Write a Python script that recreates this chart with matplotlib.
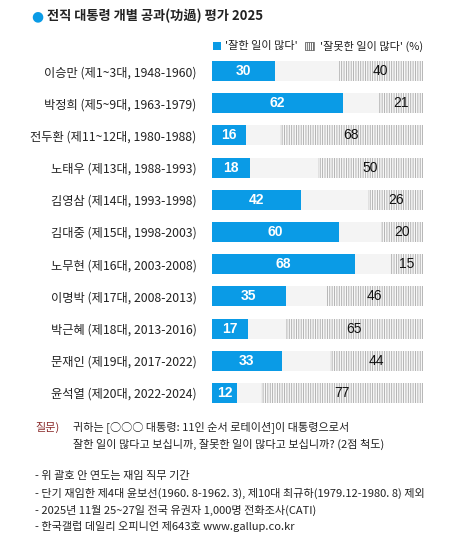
import matplotlib.pyplot as plt
from matplotlib import font_manager

# 데이터
presidents = ['이승만 (제1~3대, 1948-1960)', '박정희 (제5~9대, 1963-1979)', '전두환 (제11~12대, 1980-1988)',
              '노태우 (제13대, 1988-1993)', '김영삼 (제14대, 1993-1998)', '김대중 (제15대, 1998-2003)',
              '노무현 (제16대, 2003-2008)', '이명박 (제17대, 2008-2013)', '박근혜 (제18대, 2013-2016)',
              '문재인 (제19대, 2017-2022)', '윤석열 (제20대, 2022-2024)']
good = [30, 62, 16, 18, 42, 60, 68, 35, 17, 33, 12]
bad = [40, 21, 68, 50, 26, 20, 15, 46, 65, 44, 77]

title = '전직 대통령 개별 공과(功過) 평가 2025'
legend_good = "'잘한 일이 많다'"
legend_bad = "'잘못한 일이 많다' (%)"
question = ['귀하는 [○○○ 대통령: 11인 순서 로테이션]이 대통령으로서',
            '잘한 일이 많다고 보십니까, 잘못한 일이 많다고 보십니까? (2점 척도)']
notes = ['- 위 괄호 안 연도는 재임 직무 기간',
         '- 단기 재임한 제4대 윤보선(1960. 8-1962. 3), 제10대 최규하(1979.12-1980. 8) 제외',
         '- 2025년 11월 25~27일 전국 유권자 1,000명 전화조사(CATI)',
         '- 한국갤럽 데일리 오피니언 제643호 www.gallup.co.kr']

plt.rcParams['font.family'] = ['Noto Sans CJK KR', 'DejaVu Sans']
plt.rcParams['hatch.linewidth'] = 0.6

installed = {f.name for f in font_manager.fontManager.ttflist}
num_font = 'Liberation Sans Narrow' if 'Liberation Sans Narrow' in installed else 'Liberation Sans'

BLUE = '#0a9be6'
W, H = 462, 551
fig = plt.figure(figsize=(W / 100, H / 100), dpi=100)

# 막대 영역 (픽셀 위치)
left, right, top, bottom = 212, 423, 55, 409
ax = fig.add_axes([left / W, 1 - bottom / H, (right - left) / W, (bottom - top) / H])
n = len(presidents)
ypos = list(range(n))
ax.barh(ypos, [100] * n, height=0.62, color='#f4f4f4', linewidth=0)
ax.barh(ypos, bad, left=[100 - b for b in bad], height=0.62, color='#f7f7f7',
        edgecolor='#a9a9a9', hatch='|' * 7, linewidth=0)
ax.barh(ypos, good, height=0.62, color=BLUE, linewidth=0)
for i in ypos:
    ax.text(good[i] / 2, i, str(good[i]), ha='center', va='center', color='white',
            fontsize=10, fontweight='bold', family=num_font)
    ax.text(100 - bad[i] / 2, i, str(bad[i]), ha='center', va='center', color='#111111',
            fontsize=10, family=num_font)
ax.set_xlim(0, 100)
ax.set_ylim(n - 0.5, -0.5)
ax.set_yticks(ypos)
ax.set_yticklabels(presidents, fontsize=8.8, color='#222222')
ax.tick_params(axis='y', length=0, pad=11)
ax.set_xticks([])
for s in ax.spines.values():
    s.set_visible(False)

# 제목
fig.text(31 / W, 1 - 16 / H, '●', color=BLUE, fontsize=10, va='center', family='DejaVu Sans')
fig.text(47 / W, 1 - 16 / H, title, fontsize=9.5, fontweight='bold', va='center', color='#222222')

# 범례
fig.patches.append(plt.Rectangle((213 / W, 1 - 50 / H), 8 / W, 8 / H, transform=fig.transFigure,
                                 facecolor=BLUE, linewidth=0))
fig.text(225 / W, 1 - 46 / H, legend_good, fontsize=8, va='center', color='#222222')
fig.patches.append(plt.Rectangle((305 / W, 1 - 50 / H), 9 / W, 8 / H, transform=fig.transFigure,
                                 facecolor='white', edgecolor='#555555', hatch='|' * 8, linewidth=0.5))
fig.text(320 / W, 1 - 46 / H, legend_bad, fontsize=8, va='center', color='#222222')

# 질문 및 주석
fig.text(35 / W, 1 - 427 / H, '질문)', fontsize=8, va='center', color='#8b2c2c')
for k, line in enumerate(question):
    fig.text(73 / W, 1 - (427 + 17 * k) / H, line, fontsize=8, va='center', color='#222222')
for k, line in enumerate(notes):
    fig.text(35 / W, 1 - (476 + 17 * k) / H, line, fontsize=8, va='center', color='#222222')

fig.savefig('out.png', dpi=100, facecolor='white')
